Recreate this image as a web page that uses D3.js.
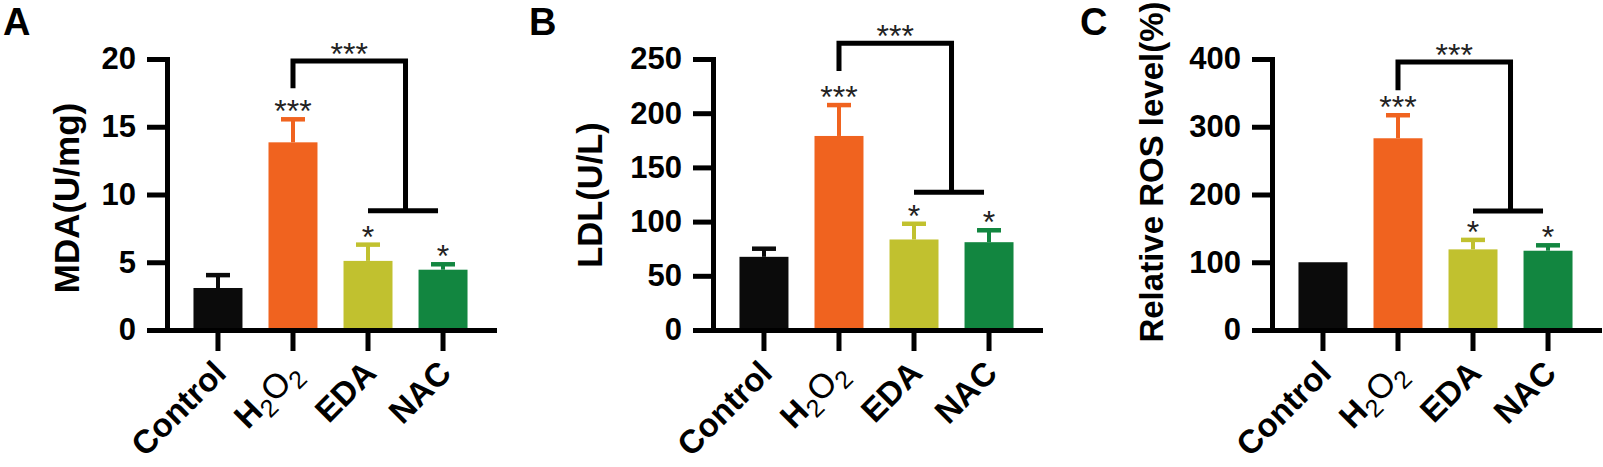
<!DOCTYPE html>
<html>
<head>
<meta charset="utf-8">
<script src="https://cdn.jsdelivr.net/npm/d3@7/dist/d3.min.js"></script>
<style>
  html, body { margin: 0; padding: 0; background: #ffffff; }
  svg { display: block; }
  text { font-family: "Liberation Sans", Arial, Helvetica, sans-serif; }
</style>
</head>
<body>
<svg id="chart" width="1603" height="467"></svg>
<script>
// ---------------- data ----------------
const categories = ["Control", "H2O2", "EDA", "NAC"];
const barColors = ["#0b0b0b", "#f0631f", "#c1c12f", "#128640"];

const mdaMean = [3.1, 13.85, 5.1, 4.45];
const mdaErr  = [0.95, 1.7, 1.2, 0.4];
const ldlMean = [67.5, 179, 83.5, 81];
const ldlErr  = [7.5, 28.5, 14.5, 11];
const rosMean = [100, 283, 119, 117];
const rosErr  = [0, 34, 14, 8];

const mdaTicks = [0, 5, 10, 15, 20];
const ldlTicks = [0, 50, 100, 150, 200, 250];
const rosTicks = [0, 100, 200, 300, 400];

const barStars = ["", "***", "*", "*"];
// bracket: [top level, left foot level, right foot level]
const mdaBracket = [19.85, 17.85, 8.8];
const ldlBracket = [264.5, 239, 127];
const rosBracket = [395.5, 354, 175.5];
const bracketLabel = "***";

const panelLetters = ["A", "B", "C"];
const yTitles = ["MDA(U/mg)", "LDL(U/L)", "Relative ROS level(%)"];

// ---------------- layout ----------------
const panels = [
  { mean: mdaMean, err: mdaErr, ticks: mdaTicks, max: 20, bracket: mdaBracket,
    x0: 167, titleX: 79, titleY: 198, titleFs: 35, letterX: 3 },
  { mean: ldlMean, err: ldlErr, ticks: ldlTicks, max: 250, bracket: ldlBracket,
    x0: 713, titleX: 602, titleY: 195, titleFs: 34.5, letterX: 529 },
  { mean: rosMean, err: rosErr, ticks: rosTicks, max: 400, bracket: rosBracket,
    x0: 1272, titleX: 1163, titleY: 172, titleFs: 33, letterX: 1080 }
];
const yTop = 59, yBottom = 330, plotW = 327;
const axisW = 5;

const svg = d3.select("#chart");

panels.forEach((p, pi) => {
  const g = svg.append("g");
  const y = d3.scaleLinear().domain([0, p.max]).range([yBottom, yTop]);
  const x = d3.scaleBand().domain(categories)
    .range([p.x0, p.x0 + plotW]).paddingInner(0.347).paddingOuter(0.353);

  // bars
  g.selectAll("rect.bar").data(categories).join("rect")
    .attr("class", "bar")
    .attr("x", d => x(d))
    .attr("width", x.bandwidth())
    .attr("y", (d, i) => y(p.mean[i]))
    .attr("height", (d, i) => yBottom - y(p.mean[i]))
    .attr("fill", (d, i) => barColors[i]);

  // error bars (upper only)
  categories.forEach((c, i) => {
    if (p.err[i] <= 0) return;
    const cx = x(c) + x.bandwidth() / 2;
    const yt = y(p.mean[i] + p.err[i]);
    g.append("line").attr("x1", cx).attr("x2", cx)
      .attr("y1", y(p.mean[i])).attr("y2", yt)
      .attr("stroke", barColors[i]).attr("stroke-width", 4);
    g.append("line").attr("x1", cx - 12).attr("x2", cx + 12)
      .attr("y1", yt).attr("y2", yt)
      .attr("stroke", barColors[i]).attr("stroke-width", 4.5);
  });

  // y axis
  const yAxis = d3.axisLeft(y).tickValues(p.ticks).tickSize(20).tickSizeOuter(0).tickPadding(11);
  const ya = g.append("g").attr("transform", `translate(${p.x0},0)`).call(yAxis);
  ya.select(".domain").attr("stroke", "#000").attr("stroke-width", axisW)
    .attr("stroke-linecap", "square");
  ya.selectAll(".tick line").attr("stroke", "#000").attr("stroke-width", axisW);
  ya.selectAll(".tick text").attr("font-size", 31).attr("font-weight", "bold")
    .attr("fill", "#000").attr("font-family", "'Liberation Sans', Arial, sans-serif");

  // x axis
  const xAxis = d3.axisBottom(x).tickSize(21).tickSizeOuter(0).tickFormat("");
  const xa = g.append("g").attr("transform", `translate(0,${yBottom})`).call(xAxis);
  xa.select(".domain").attr("stroke", "#000").attr("stroke-width", axisW)
    .attr("stroke-linecap", "square");
  xa.selectAll(".tick line").attr("stroke", "#000").attr("stroke-width", axisW);

  // x labels rotated
  categories.forEach((c, i) => {
    const cx = x(c) + x.bandwidth() / 2;
    const t = g.append("text")
      .attr("transform", `translate(${cx + 10},${yBottom + 45}) rotate(-45)`)
      .attr("text-anchor", "end")
      .attr("font-size", 33).attr("font-weight", "bold").attr("fill", "#000");
    if (c === "H2O2") {
      t.append("tspan").text("H");
      t.append("tspan").text("2").attr("font-size", 25).attr("font-weight", "normal").attr("dy", 8);
      t.append("tspan").text("O").attr("font-size", 34).attr("font-weight", "normal").attr("dy", -8);
      t.append("tspan").text("2").attr("font-size", 25).attr("font-weight", "normal").attr("dy", 8);
    } else {
      t.text(c);
    }
  });

  // stars above bars
  categories.forEach((c, i) => {
    if (!barStars[i]) return;
    const cx = x(c) + x.bandwidth() / 2;
    g.append("text").attr("x", cx).attr("y", y(p.mean[i] + p.err[i]) + 3)
      .attr("text-anchor", "middle").attr("font-size", 32).attr("fill", "#222")
      .text(barStars[i]);
  });

  // bracket
  const xl = x(categories[1]) + x.bandwidth() / 2;
  const xe = x(categories[2]) + x.bandwidth() / 2;
  const xn = x(categories[3]) + x.bandwidth() / 2;
  const xr = (xe + xn) / 2;
  const [bt, bl, br] = p.bracket;
  g.append("path")
    .attr("d", `M${xl},${y(bl)}V${y(bt)}H${xr}V${y(br)}`)
    .attr("fill", "none").attr("stroke", "#000").attr("stroke-width", 5)
    .attr("stroke-linejoin", "miter");
  g.append("line").attr("x1", xe).attr("x2", xn - 5)
    .attr("y1", y(br)).attr("y2", y(br))
    .attr("stroke", "#000").attr("stroke-width", 5);
  g.append("text").attr("x", (xl + xr) / 2).attr("y", y(bt) + 4)
    .attr("text-anchor", "middle").attr("font-size", 32).attr("fill", "#222")
    .text(bracketLabel);

  // y title
  g.append("text")
    .attr("transform", `translate(${p.titleX},${p.titleY}) rotate(-90)`)
    .attr("text-anchor", "middle").attr("font-size", p.titleFs).attr("font-weight", "bold")
    .attr("fill", "#000").text(yTitles[pi]);

  // panel letter
  g.append("text").attr("x", p.letterX).attr("y", 35)
    .attr("font-size", 38).attr("font-weight", "bold").attr("fill", "#000")
    .text(panelLetters[pi]);
});
</script>
</body>
</html>
